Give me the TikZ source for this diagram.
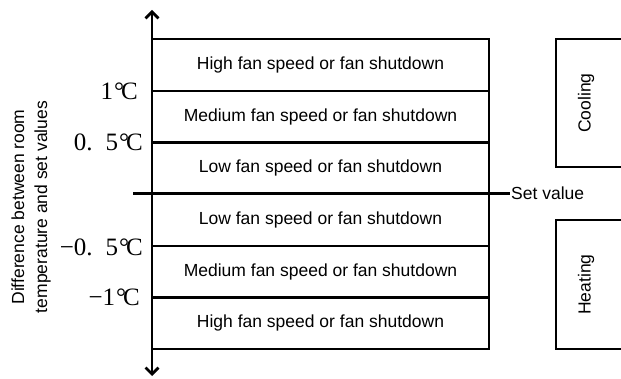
\documentclass[tikz,border=0pt]{standalone}
\usepackage{fontspec}
\setmainfont{Liberation Sans}
\newfontfamily\degfont{Liberation Serif}
\usetikzlibrary{arrows.meta}
\begin{document}
\begin{tikzpicture}[x=1pt,y=-1pt,
  rowbox/.style={draw, line width=2pt, minimum width=337pt, minimum height=51.7pt, inner sep=0pt,
     font=\fontsize{17.5}{21}\selectfont},
  deglabel/.style={anchor=east, inner sep=0pt, font=\fontsize{25}{29}\degfont},
  sidetext/.style={rotate=90, inner sep=0pt, font=\fontsize{17.5}{21}\selectfont},
  axisline/.style={line width=2.8pt, {Straight Barb[length=6.5pt,width=13pt]}-{Straight Barb[length=6.5pt,width=13pt]}},
  thinline/.style={line width=2pt}]
\useasboundingbox (0,0) rectangle (621,379);
\begin{scope}
\clip (0,0) rectangle (621,379);
% rows
\node[rowbox] (r1) at (320.5,65.0) {High fan speed or fan shutdown};
\node[rowbox] (r2) at (320.5,116.7) {Medium fan speed or fan shutdown};
\node[rowbox] (r3) at (320.5,168.3) {Low fan speed or fan shutdown};
\node[rowbox] (r4) at (320.5,220.0) {Low fan speed or fan shutdown};
\node[rowbox] (r5) at (320.5,271.7) {Medium fan speed or fan shutdown};
\node[rowbox] (r6) at (320.5,323.3) {High fan speed or fan shutdown};
% axis
\coordinate (atop) at (152,10);
\coordinate (abot) at (152,376);
\draw[axisline] (abot) -- (atop);
% set value line
\coordinate (sl) at (133,193.5);
\coordinate (sr) at (510,193.5);
\draw[line width=2.5pt] (sl) -- (sr);
\node[anchor=west, inner sep=1pt, font=\fontsize{17.5}{21}\selectfont] (setv) at (sr) {Set value};
% degree labels
\node[deglabel] (d1) at (138,91) {1\kern1pt°\kern-3pt C};
\node[deglabel] (d2) at (143,142) {0.\hspace{13pt}5\kern1pt°\kern-3pt C};
\node[deglabel] (d3) at (143,247) {−0.\hspace{13pt}5\kern1pt°\kern-3pt C};
\node[deglabel] (d4) at (140,297) {−1\kern1pt°\kern-3pt C};
% vertical axis title
\node[rotate=90, align=center, inner sep=0pt, font=\fontsize{17.5}{23}\selectfont] (title) at (31,207)
  {Difference between room\\temperature and set values};
% side boxes
\draw[thinline] (640,39) -- (556,39) -- (556,167) -- (640,167);
\node[sidetext] (cool) at (586,103) {Cooling};
\draw[thinline] (640,220) -- (556,220) -- (556,349) -- (640,349);
\node[sidetext] (heat) at (586,284.5) {Heating};
\end{scope}
\end{tikzpicture}
\end{document}
